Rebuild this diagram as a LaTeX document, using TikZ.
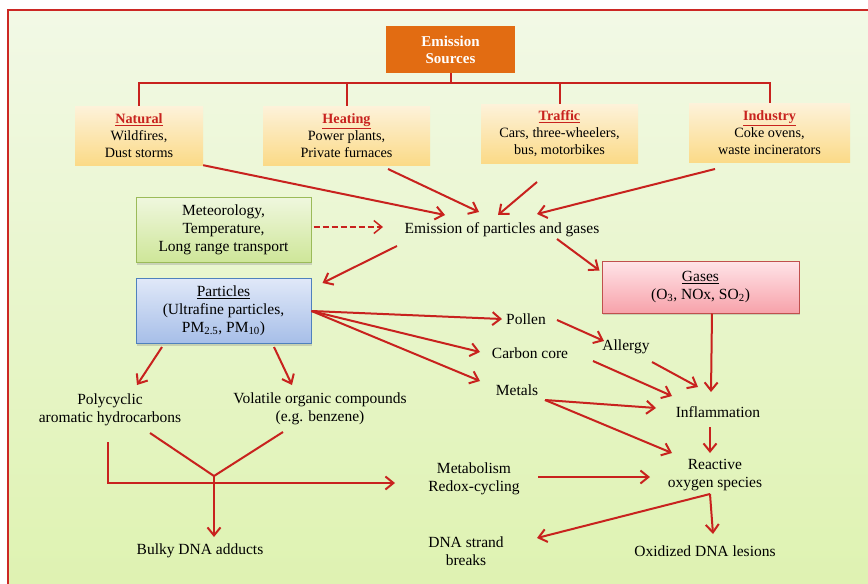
\documentclass[tikz,border=0pt]{standalone}
\usepackage{fontspec}
\setmainfont{Liberation Serif}
\usetikzlibrary{arrows.meta,calc,shadows}

\definecolor{linered}{RGB}{200,34,30}
\definecolor{framered}{RGB}{204,40,36}
\definecolor{bgtop}{RGB}{242,249,230}
\definecolor{bgbot}{RGB}{222,242,176}
\definecolor{srcorange}{RGB}{226,108,18}
\definecolor{srctop}{RGB}{253,242,218}
\definecolor{srcbot}{RGB}{251,218,135}
\definecolor{mettop}{RGB}{239,247,222}
\definecolor{metbot}{RGB}{206,230,152}
\definecolor{metline}{RGB}{155,187,89}
\definecolor{parttop}{RGB}{224,232,248}
\definecolor{partbot}{RGB}{166,190,232}
\definecolor{partline}{RGB}{79,129,189}
\definecolor{gastop}{RGB}{255,228,232}
\definecolor{gasbot}{RGB}{247,162,170}
\definecolor{gasline}{RGB}{192,80,77}

\newcommand{\srctitle}[1]{\textcolor{linered}{\textbf{\underline{#1}}}}

\tikzset{
  srcbox/.style  = {rectangle, fill=srcorange, text=white, align=center,
                    font=\fontsize{15}{17}\selectfont\bfseries,
                    minimum width=129pt, minimum height=47pt},
  source/.style  = {rectangle, align=center, inner sep=2pt, minimum height=59pt,
                    font=\fontsize{14.2}{17}\selectfont,
                    top color=srctop, bottom color=srcbot},
  factor/.style  = {rectangle, line width=1pt, align=center, minimum width=175pt,
                    minimum height=65pt,
                    drop shadow={shadow xshift=1pt, shadow yshift=-2pt, opacity=0.3}},
  metbox/.style  = {factor, draw=metline, top color=mettop, bottom color=metbot},
  partbox/.style = {factor, draw=partline, top color=parttop, bottom color=partbot},
  gasbox/.style  = {factor, draw=gasline, top color=gastop, bottom color=gasbot},
  txt/.style     = {align=center, inner sep=1pt},
  link/.style    = {draw=linered, line width=2pt},
  arrow/.style   = {link, ->}
}

\begin{document}
\begin{tikzpicture}[x=1pt, y=-1pt, >={Straight Barb[length=8pt,width=13pt]},
  every node/.style={font=\fontsize{15.5}{18}\selectfont}]

\useasboundingbox (0,0) rectangle (868,584);

% Frame
\draw[draw=framered, line width=2pt, top color=bgtop, bottom color=bgbot]
  (8,10) rectangle (880,600);

% Emission sources
\node[srcbox] (src) at (450.5,49.5) {Emission\\Sources};
\coordinate (bus) at (453,83);
\node[source, minimum width=128pt] (natural) at (139,135.5)
  {\srctitle{Natural}\\Wildfires,\\Dust storms};
\node[source, minimum width=167pt, right of=natural, node distance=207.5pt] (heating)
  {\srctitle{Heating}\\Power plants,\\Private furnaces};
\node[source, minimum width=157pt, right of=heating, node distance=213pt, yshift=2pt] (traffic)
  {\srctitle{Traffic}\\Cars, three-wheelers,\\bus, motorbikes};
\node[source, minimum width=161pt, right of=traffic, node distance=210pt, yshift=0.5pt] (industry)
  {\srctitle{Industry}\\Coke ovens,\\waste incinerators};

% Factors and pollutants
\node[metbox] (meteo) at (223.5,230) {Meteorology,\\Temperature,\\Long range transport};
\node[partbox, below of=meteo, node distance=81pt] (particles)
  {\underline{Particles}\\(Ultrafine particles,\\PM\textsubscript{2.5}, PM\textsubscript{10})};
\node[gasbox, minimum width=197pt, minimum height=52pt] (gases) at (700.5,287)
  {\underline{Gases}\\(O\textsubscript{3}, NOx, SO\textsubscript{2})};

% Effects
\node[txt] (emis) at (502,230) {Emission of particles and gases};
\node[txt] (pollen) at (526,319) {Pollen};
\node[txt] (carbon) at (530,353) {Carbon core};
\node[txt] (metals) at (517,390) {Metals};
\node[txt] (allergy) at (626,347) {Allergy};
\node[txt] (inflam) at (718,412) {Inflammation};
\node[txt] (ros) at (715,475) {Reactive\\oxygen species};
\node[txt] (metab) at (474,479) {Metabolism\\Redox-cycling};
\node[txt] (pah) at (110,410) {Polycyclic\\aromatic hydrocarbons};
\node[txt] (voc) at (320,409) {Volatile organic compounds\\(e.g. benzene)};
\node[txt] (bulky) at (200,551) {Bulky DNA adducts};
\node[txt] (strand) at (466,551) {DNA strand\\breaks};
\node[txt] (oxid) at (705,551) {Oxidized DNA lesions};
\coordinate (merge) at (214,476);

% Source tree
\draw[link] (src.south) -- (src.south |- bus);
\draw[link] (natural.north) -- (natural.north |- bus) -- (industry.north |- bus) -- (industry.north);
\draw[link] (heating.north) -- (heating.north |- bus);
\draw[link] (traffic.north) -- (traffic.north |- bus);

% Connections
\draw[arrow] (natural.south east) -- ($(emis)+(-57,-15)$);
\draw[arrow] ($(heating)+(41.5,33.5)$) -- ($(emis)+(-23,-18)$);
\draw[arrow] ($(traffic)+(-22.5,48.5)$) -- ($(emis)+(-4,-15)$);
\draw[arrow] ($(industry)+(-54.5,36)$) -- ($(emis)+(35,-16)$);
\draw[arrow, line width=1.5pt, dash pattern=on 6pt off 3pt] ($(meteo.east)+(2,-3)$) -- ($(emis)+(-119,-3)$);
\draw[arrow] ($(emis)+(-105,16)$) -- ($(particles.north east)+(11,5)$);
\draw[arrow] ($(emis)+(55,9)$) -- ($(gases.north west)+(-2,10)$);
\draw[arrow] (particles.east) -- ($(pollen)+(-24,0)$);
\draw[arrow] (particles.east) -- ($(carbon)+(-50,-1)$);
\draw[arrow] (particles.east) -- ($(metals)+(-37,-9)$);
\draw[arrow] ($(pollen)+(31,1)$) -- ($(allergy)+(-22,-6)$);
\draw[arrow] ($(allergy)+(26,15)$) -- ($(inflam)+(-20,-25)$);
\draw[arrow] ($(carbon)+(63,8)$) -- ($(inflam)+(-46,-16)$);
\draw[arrow] ($(gases.south)+(11.5,0)$) -- ($(inflam)+(-7,-20)$);
\draw[arrow] ($(metals)+(28,10)$) -- ($(inflam)+(-62,-4)$);
\draw[arrow] ($(metals)+(28,10)$) -- ($(ros)+(-43,-22)$);
\draw[arrow] ($(inflam)+(-8,15)$) -- ($(ros)+(-5,-22)$);
\draw[arrow] ($(metab)+(64,-2)$) -- ($(ros)+(-65,2)$);
\draw[arrow] ($(ros)+(-5,19)$) -- ($(strand)+(71,-13)$);
\draw[arrow] ($(ros)+(-5,19)$) -- ($(oxid)+(8,-17)$);
\draw[arrow] ($(particles.south)+(-61.5,3)$) -- ($(pah)+(27,-25)$);
\draw[arrow] ($(particles.south)+(50.5,3)$) -- ($(voc)+(-28,-24)$);
\draw[arrow] ($(pah)+(-2,32)$) |- ($(metab)+(-79,4)$);
\draw[link] ($(pah)+(40,23)$) -- (merge) -- ($(voc)+(-37,23)$);
\draw[arrow] (merge) -- ($(bulky)+(14,-14)$);

\end{tikzpicture}
\end{document}
